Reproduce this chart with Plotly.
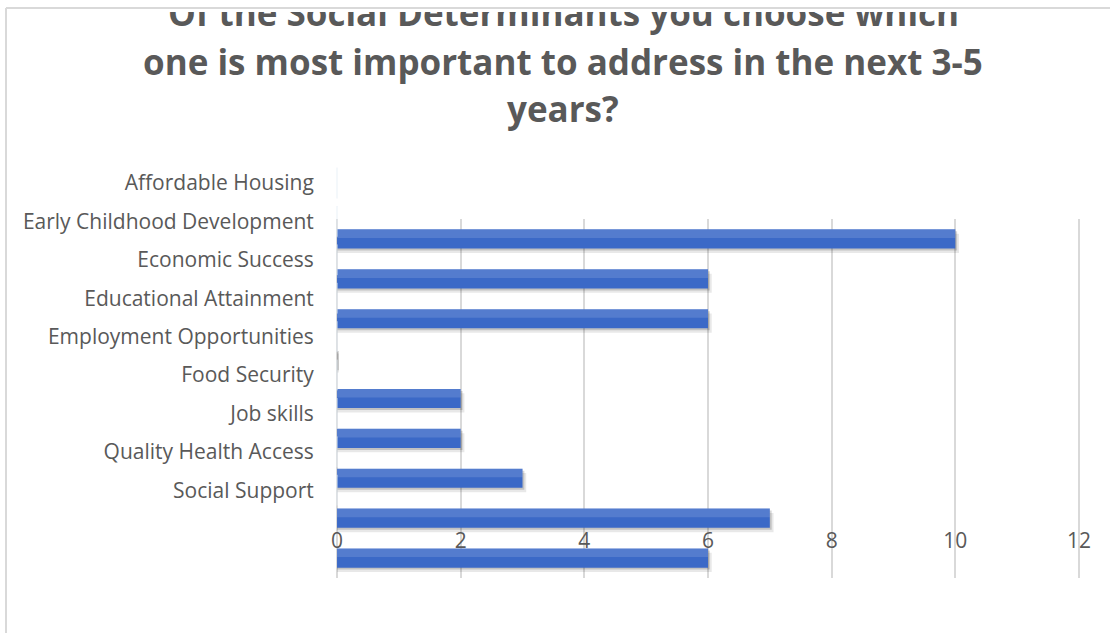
import plotly.graph_objects as go

W, H = 1110, 633

categories = [
    "Affordable Housing",
    "Early Childhood Development",
    "Economic Success",
    "Educational Attainment",
    "Employment Opportunities",
    "Food Security",
    "Job skills",
    "Quality Health Access",
    "Social Support",
]
counts = [10, 6, 6, 0, 2, 2, 3, 7, 6]
x_ticks = [0, 2, 4, 6, 8, 10, 12]
title_lines = [
    "Of the Social Determinants you choose which",
    "one is most important to address in the next 3-5",
    "years?",
]

TEXT = "#595959"
GRID = "#d9d9d9"
BAR = "#3b69c7"
FONT = "Open Sans"


def py(px):
    """Pixel row (from top) to paper fraction."""
    return 1 - px / H


def pxx(px):
    return px / W


BAR_W = 0.48
fig = go.Figure()

# soft drop shadow under each bar
for dy, dx, alpha in [(0.11, 0.06, 0.09), (0.05, 0.03, 0.16)]:
    fig.add_trace(go.Bar(
        x=[v + dx if v > 0 else 0.03 for v in counts], y=categories, orientation="h",
        width=BAR_W, offset=-BAR_W / 2 + dy,
        marker=dict(color=f"rgba(0,0,0,{alpha})", line_width=0),
        xaxis="x", yaxis="y2", hoverinfo="skip", showlegend=False,
    ))

# main bars
fig.add_trace(go.Bar(
    x=counts, y=categories, orientation="h",
    width=BAR_W, offset=-BAR_W / 2,
    marker=dict(color=BAR, line_width=0),
    xaxis="x", yaxis="y2", showlegend=False,
))
# lighter upper band for the bevelled look
fig.add_trace(go.Bar(
    x=counts, y=categories, orientation="h",
    width=BAR_W * 0.45, offset=-BAR_W / 2,
    marker=dict(color="rgba(255,255,255,0.13)", line_width=0),
    xaxis="x", yaxis="y2", hoverinfo="skip", showlegend=False,
))

# category label axis (carries the category names)
fig.add_trace(go.Bar(
    x=[0] * len(categories), y=categories, orientation="h",
    marker=dict(color="rgba(0,0,0,0)"),
    xaxis="x2", yaxis="y", hoverinfo="skip", showlegend=False,
))

X_RANGE = [-0.02, 12.02]
x_dom = [pxx(335.8), pxx(1080.2)]

fig.update_layout(
    width=W, height=H,
    margin=dict(l=0, r=0, t=0, b=0, autoexpand=False),
    paper_bgcolor="white", plot_bgcolor="rgba(0,0,0,0)",
    barmode="overlay",
    font=dict(family=FONT, color=TEXT),
    xaxis=dict(
        domain=x_dom, range=X_RANGE, tickvals=x_ticks,
        showgrid=True, gridcolor=GRID, gridwidth=2,
        zeroline=False, showline=False, ticks="",
        anchor="free", position=py(526), automargin=False,
        tickfont=dict(size=21, color=TEXT, family=FONT),
    ),
    xaxis2=dict(domain=x_dom, range=X_RANGE, visible=False, anchor="y", automargin=False),
    yaxis2=dict(
        domain=[py(578), py(219)], anchor="x", automargin=False,
        categoryorder="array", categoryarray=categories, autorange="reversed",
        showticklabels=False, showgrid=False, zeroline=False, ticks="",
    ),
    yaxis=dict(
        domain=[py(509.4), py(163.8)], anchor="x2", automargin=False,
        categoryorder="array", categoryarray=categories, autorange="reversed",
        showgrid=False, zeroline=False, showline=False, ticks="",
        ticklabelstandoff=21,
        tickfont=dict(size=21, color=TEXT, family=FONT),
    ),
    shapes=[
        dict(type="line", xref="paper", yref="paper", x0=pxx(6), x1=1, y0=py(8), y1=py(8),
             line=dict(color=GRID, width=2)),
        dict(type="line", xref="paper", yref="paper", x0=pxx(6), x1=pxx(6), y0=0, y1=py(8),
             line=dict(color=GRID, width=2)),
    ],
)

# title, one annotation per line; the first line is cut by the chart frame
TITLE_SIZE = 35
ann = [dict(
    text=f"<b>{title_lines[0]}</b>", xref="paper", yref="paper",
    x=pxx(563), y=py(10), xanchor="center", yanchor="top",
    height=24, valign="bottom", showarrow=False,
    font=dict(size=TITLE_SIZE, color=TEXT, family=FONT),
)]
for line, cy in zip(title_lines[1:], [62, 108.5]):
    ann.append(dict(
        text=f"<b>{line}</b>", xref="paper", yref="paper",
        x=pxx(563), y=py(cy), xanchor="center", yanchor="middle",
        showarrow=False, font=dict(size=TITLE_SIZE, color=TEXT, family=FONT),
    ))
fig.update_layout(annotations=ann)

fig.write_html("out.html")
